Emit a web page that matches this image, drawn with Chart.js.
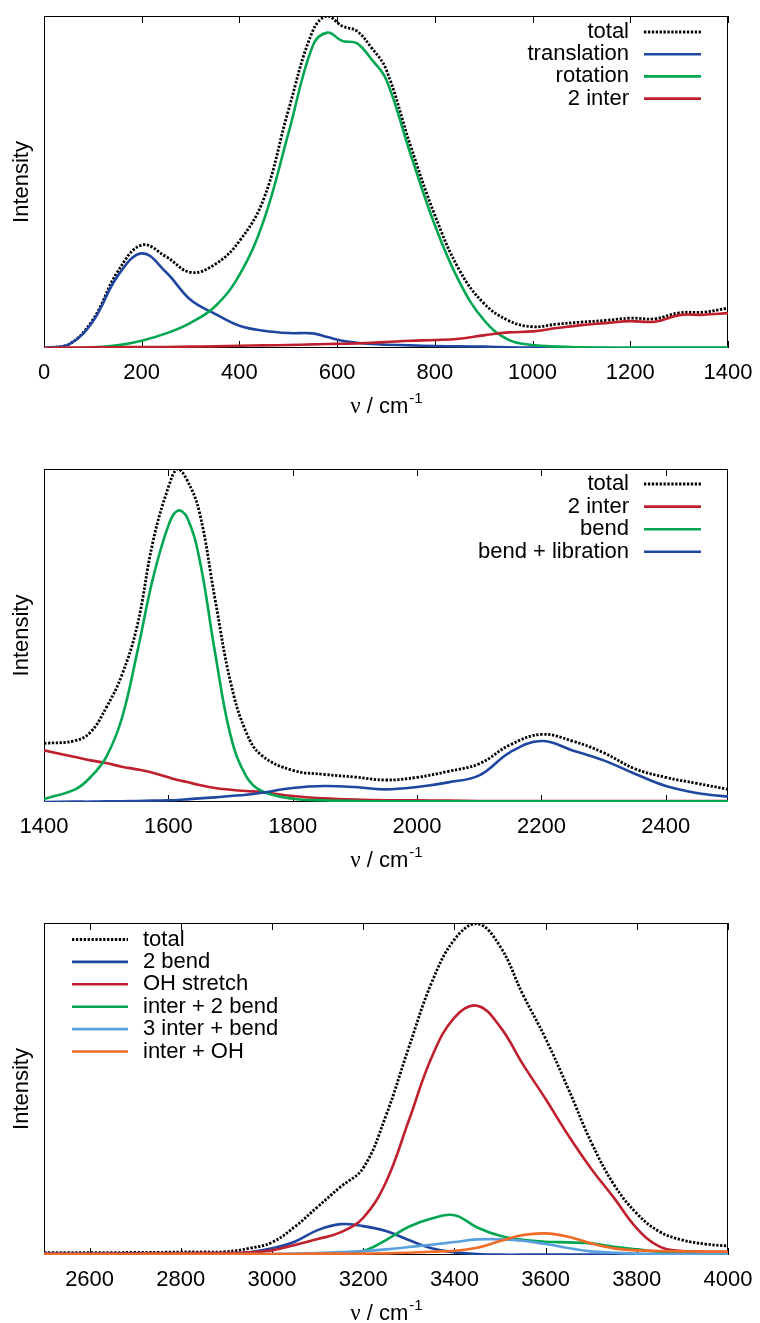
<!DOCTYPE html>
<html lang="en">
  <head>
    <meta charset="UTF-8" />
    <title>Spectra</title>
    <script src="https://cdn.jsdelivr.net/npm/chart.js"></script>
    <style>
      body { margin: 0; background: #fff; }
      .panel { position: absolute; left: 0; width: 760px; }
    </style>
  </head>
  <body>
    <div class="panel" style="top: 0px"><canvas id="c1" width="760" height="416"></canvas></div>
    <div class="panel" style="top: 450px"><canvas id="c2" width="760" height="420"></canvas></div>
    <div class="panel" style="top: 900px"><canvas id="c3" width="760" height="423"></canvas></div>

    <script>
      // panel 1: 0 - 1400 cm-1
      const freq1 = [0, 50, 100, 150, 200, 250, 300, 350, 400, 450, 500, 550, 580, 610, 640, 670, 700, 750, 800, 850, 900, 950, 1000, 1050, 1100, 1150, 1200, 1250, 1300, 1350, 1400];
      const total1 = [0, 0.01, 0.085, 0.228, 0.31, 0.275, 0.228, 0.252, 0.322, 0.45, 0.715, 0.955, 1.0, 0.97, 0.955, 0.905, 0.84, 0.61, 0.40, 0.235, 0.135, 0.083, 0.064, 0.072, 0.078, 0.083, 0.09, 0.088, 0.106, 0.108, 0.12];
      const translation1 = [0, 0.01, 0.08, 0.215, 0.285, 0.228, 0.145, 0.103, 0.067, 0.052, 0.045, 0.044, 0.033, 0.022, 0.016, 0.012, 0.01, 0.008, 0.006, 0.005, 0.004, 0.002, 0.001, 0.001, 0, 0, 0, 0, 0, 0, 0];
      const rotation1 = [0, 0, 0.002, 0.008, 0.022, 0.044, 0.076, 0.125, 0.22, 0.385, 0.645, 0.91, 0.95, 0.925, 0.918, 0.87, 0.81, 0.585, 0.37, 0.2, 0.085, 0.025, 0.009, 0.004, 0.002, 0.001, 0.001, 0.001, 0.001, 0.001, 0.001];
      const inter1 = [0, 0.001, 0.002, 0.002, 0.003, 0.003, 0.004, 0.005, 0.007, 0.008, 0.009, 0.011, 0.012, 0.013, 0.014, 0.016, 0.018, 0.022, 0.024, 0.028, 0.038, 0.047, 0.05, 0.06, 0.069, 0.075, 0.081, 0.079, 0.099, 0.1, 0.105];

      // panel 2: 1400 - 2500 cm-1
      const freq2 = [1400, 1450, 1475, 1500, 1525, 1550, 1575, 1600, 1615, 1630, 1650, 1675, 1700, 1725, 1750, 1800, 1850, 1900, 1950, 2000, 2050, 2100, 2150, 2200, 2250, 2300, 2350, 2400, 2450, 2500];
      const total2 = [0.176, 0.184, 0.21, 0.283, 0.38, 0.53, 0.78, 0.945, 1.0, 0.967, 0.87, 0.61, 0.36, 0.21, 0.14, 0.095, 0.083, 0.075, 0.066, 0.074, 0.092, 0.115, 0.172, 0.203, 0.183, 0.148, 0.1, 0.074, 0.056, 0.038];
      const inter2 = [0.155, 0.135, 0.125, 0.117, 0.106, 0.098, 0.088, 0.074, 0.066, 0.06, 0.051, 0.042, 0.037, 0.033, 0.03, 0.018, 0.011, 0.007, 0.005, 0.005, 0.004, 0.003, 0.003, 0.003, 0.003, 0.003, 0.003, 0.003, 0.003, 0.003];
      const bend2 = [0.009, 0.038, 0.075, 0.135, 0.25, 0.45, 0.67, 0.83, 0.875, 0.855, 0.73, 0.45, 0.2, 0.078, 0.033, 0.01, 0.005, 0.003, 0.002, 0.002, 0.002, 0.002, 0.002, 0.002, 0.002, 0.002, 0.002, 0.002, 0.002, 0.002];
      const bendLib2 = [0, 0.001, 0.001, 0.002, 0.002, 0.003, 0.004, 0.005, 0.006, 0.008, 0.011, 0.014, 0.018, 0.022, 0.028, 0.042, 0.048, 0.045, 0.038, 0.045, 0.059, 0.08, 0.15, 0.183, 0.155, 0.125, 0.085, 0.048, 0.027, 0.016];

      // panel 3: 2500 - 4000 cm-1
      const freq3 = [2500, 2550, 2600, 2650, 2700, 2750, 2800, 2850, 2900, 2950, 3000, 3050, 3100, 3150, 3200, 3250, 3300, 3350, 3400, 3450, 3500, 3550, 3600, 3650, 3700, 3750, 3800, 3850, 3900, 3950, 4000];
      const total3 = [0.007, 0.007, 0.007, 0.007, 0.008, 0.008, 0.009, 0.009, 0.01, 0.02, 0.038, 0.085, 0.145, 0.205, 0.262, 0.42, 0.625, 0.82, 0.95, 0.998, 0.93, 0.785, 0.652, 0.5, 0.34, 0.212, 0.125, 0.07, 0.045, 0.033, 0.027];
      const bend3 = [0.003, 0.003, 0.003, 0.003, 0.003, 0.003, 0.003, 0.003, 0.003, 0.008, 0.02, 0.04, 0.075, 0.093, 0.087, 0.072, 0.045, 0.02, 0.008, 0.003, 0.001, 0.001, 0.001, 0.001, 0.001, 0.001, 0.001, 0.001, 0.001, 0.001, 0.001];
      const stretch3 = [0.004, 0.004, 0.004, 0.005, 0.005, 0.005, 0.005, 0.006, 0.006, 0.008, 0.014, 0.03, 0.048, 0.068, 0.112, 0.22, 0.405, 0.595, 0.715, 0.751, 0.688, 0.575, 0.47, 0.36, 0.26, 0.172, 0.08, 0.025, 0.012, 0.01, 0.01];
      const interBend3 = [0.002, 0.002, 0.002, 0.002, 0.002, 0.002, 0.002, 0.002, 0.002, 0.002, 0.002, 0.002, 0.002, 0.005, 0.012, 0.045, 0.085, 0.11, 0.12, 0.083, 0.058, 0.046, 0.04, 0.038, 0.035, 0.025, 0.017, 0.01, 0.007, 0.005, 0.005];
      const inter3Bend3 = [0.003, 0.003, 0.003, 0.003, 0.003, 0.003, 0.003, 0.003, 0.003, 0.003, 0.003, 0.004, 0.006, 0.009, 0.012, 0.017, 0.024, 0.031, 0.039, 0.047, 0.047, 0.043, 0.033, 0.021, 0.011, 0.007, 0.004, 0.003, 0.003, 0.003, 0.003];
      const interOH3 = [0.002, 0.002, 0.002, 0.002, 0.002, 0.003, 0.003, 0.003, 0.003, 0.003, 0.003, 0.003, 0.004, 0.004, 0.004, 0.005, 0.007, 0.01, 0.013, 0.022, 0.042, 0.06, 0.065, 0.055, 0.035, 0.02, 0.014, 0.012, 0.011, 0.01, 0.01];

      const BLACK = "#000000";
      const BLUE = "#2047a0";
      const GREEN = "#00a650";
      const RED = "#c0202e";
      const LIGHTBLUE = "#5aa0dc";
      const ORANGE = "#f06a28";
      const FONT = "Liberation Sans, Arial, sans-serif";

      function series(label, xs, ys, color, dotted, i) {
        return {
          label: label,
          data: xs.map((x, k) => ({ x: x, y: ys[k] })),
          borderColor: color,
          borderWidth: dotted ? 2.8 : 2.6,
          borderDash: dotted ? [2.3, 1.6] : [],
          pointRadius: 0,
          tension: 0.4,
          fill: false,
          order: -i, // later series on top
        };
      }

      // frame, inner ticks, axis labels and legend
      const framePlugin = {
        id: "frame",
        beforeDatasetsDraw(chart) {
          const { ctx, chartArea: a, scales } = chart;
          const x = scales.x;
          ctx.save();
          ctx.strokeStyle = "#000";
          ctx.lineWidth = 1;
          ctx.strokeRect(a.left + 0.5, a.top + 0.5, a.width - 1, a.height - 1);
          x.ticks.forEach((t) => {
            const px = Math.round(x.getPixelForValue(t.value)) + 0.5;
            ctx.beginPath();
            ctx.moveTo(px, a.bottom);
            ctx.lineTo(px, a.bottom - 7);
            ctx.moveTo(px, a.top);
            ctx.lineTo(px, a.top + 7);
            ctx.stroke();
          });
          ctx.restore();
        },
        afterDraw(chart, args, opts) {
          const { ctx, chartArea: a } = chart;
          ctx.save();
          ctx.fillStyle = "#000";
          // y label
          ctx.font = "22px " + FONT;
          ctx.textAlign = "center";
          ctx.textBaseline = "middle";
          ctx.translate(22, (a.top + a.bottom) / 2);
          ctx.rotate(-Math.PI / 2);
          ctx.fillText("Intensity", 0, 0);
          ctx.setTransform(1, 0, 0, 1, 0, 0);

          // x label: ν / cm-1
          const base = a.bottom + 65;
          ctx.textBaseline = "alphabetic";
          ctx.textAlign = "left";
          ctx.font = "23px Liberation Serif, serif";
          const wNu = ctx.measureText("ν").width;
          ctx.font = "22px " + FONT;
          const wCm = ctx.measureText(" / cm").width;
          ctx.font = "15px " + FONT;
          const wSup = ctx.measureText("-1").width;
          let sx = (a.left + a.right) / 2 - (wNu + wCm + wSup) / 2;
          ctx.font = "23px Liberation Serif, serif";
          ctx.fillText("ν", sx, base);
          sx += wNu;
          ctx.font = "22px " + FONT;
          ctx.fillText(" / cm", sx, base);
          sx += wCm;
          ctx.font = "15px " + FONT;
          ctx.fillText("-1", sx + 1, base - 10);

          // legend
          ctx.font = "22px " + FONT;
          ctx.textBaseline = "middle";
          chart.data.datasets.forEach((ds, i) => {
            const y = a.top + opts.firstRow + i * opts.rowH;
            let x0, x1;
            if (opts.side === "right") {
              ctx.textAlign = "right";
              ctx.fillText(ds.label, opts.textX, y);
              x0 = opts.textX + 15;
              x1 = x0 + 57;
            } else {
              ctx.textAlign = "left";
              ctx.fillText(ds.label, opts.textX, y);
              x0 = opts.textX - 71;
              x1 = x0 + 56;
            }
            ctx.beginPath();
            ctx.strokeStyle = ds.borderColor;
            ctx.lineWidth = ds.borderWidth;
            ctx.setLineDash(ds.borderDash);
            ctx.moveTo(x0, y);
            ctx.lineTo(x1, y);
            ctx.stroke();
          });
          ctx.restore();
        },
      };

      function makeChart(id, datasets, xmin, xmax, padTop, legend) {
        return new Chart(document.getElementById(id), {
          type: "line",
          data: { datasets: datasets },
          options: {
            responsive: false,
            animation: false,
            devicePixelRatio: 1,
            layout: { padding: { left: 44, right: 32, top: padTop, bottom: 0 } },
            plugins: {
              legend: { display: false },
              tooltip: { enabled: false },
              frame: legend,
            },
            scales: {
              x: {
                type: "linear",
                min: xmin,
                max: xmax,
                grid: { drawOnChartArea: false, drawTicks: true, tickLength: 8, tickColor: "rgba(0,0,0,0)" },
                border: { display: false },
                ticks: {
                  stepSize: 200,
                  includeBounds: false,
                  autoSkip: false,
                  maxRotation: 0,
                  padding: 4,
                  color: "#000",
                  font: { family: FONT, size: 22 },
                  callback: (v) => String(v),
                },
                afterFit: (s) => { s.height = 68; },
              },
              y: { display: false, min: 0, max: 1 },
            },
          },
          plugins: [framePlugin],
        });
      }

      makeChart("c1", [
        series("total", freq1, total1, BLACK, true, 0),
        series("translation", freq1, translation1, BLUE, false, 1),
        series("rotation", freq1, rotation1, GREEN, false, 2),
        series("2 inter", freq1, inter1, RED, false, 3),
      ], 0, 1400, 16, { side: "right", textX: 629, firstRow: 16, rowH: 22.2 });

      makeChart("c2", [
        series("total", freq2, total2, BLACK, true, 0),
        series("2 inter", freq2, inter2, RED, false, 1),
        series("bend", freq2, bend2, GREEN, false, 2),
        series("bend + libration", freq2, bendLib2, BLUE, false, 3),
      ], 1400, 2500, 19, { side: "right", textX: 629, firstRow: 15, rowH: 22.6 });

      makeChart("c3", [
        series("total", freq3, total3, BLACK, true, 0),
        series("2 bend", freq3, bend3, BLUE, false, 1),
        series("OH stretch", freq3, stretch3, RED, false, 2),
        series("inter + 2 bend", freq3, interBend3, GREEN, false, 3),
        series("3 inter + bend", freq3, inter3Bend3, LIGHTBLUE, false, 4),
        series("inter + OH", freq3, interOH3, ORANGE, false, 5),
      ], 2500, 4000, 23, { side: "left", textX: 143, firstRow: 16.5, rowH: 22.4 });
    </script>
  </body>
</html>
